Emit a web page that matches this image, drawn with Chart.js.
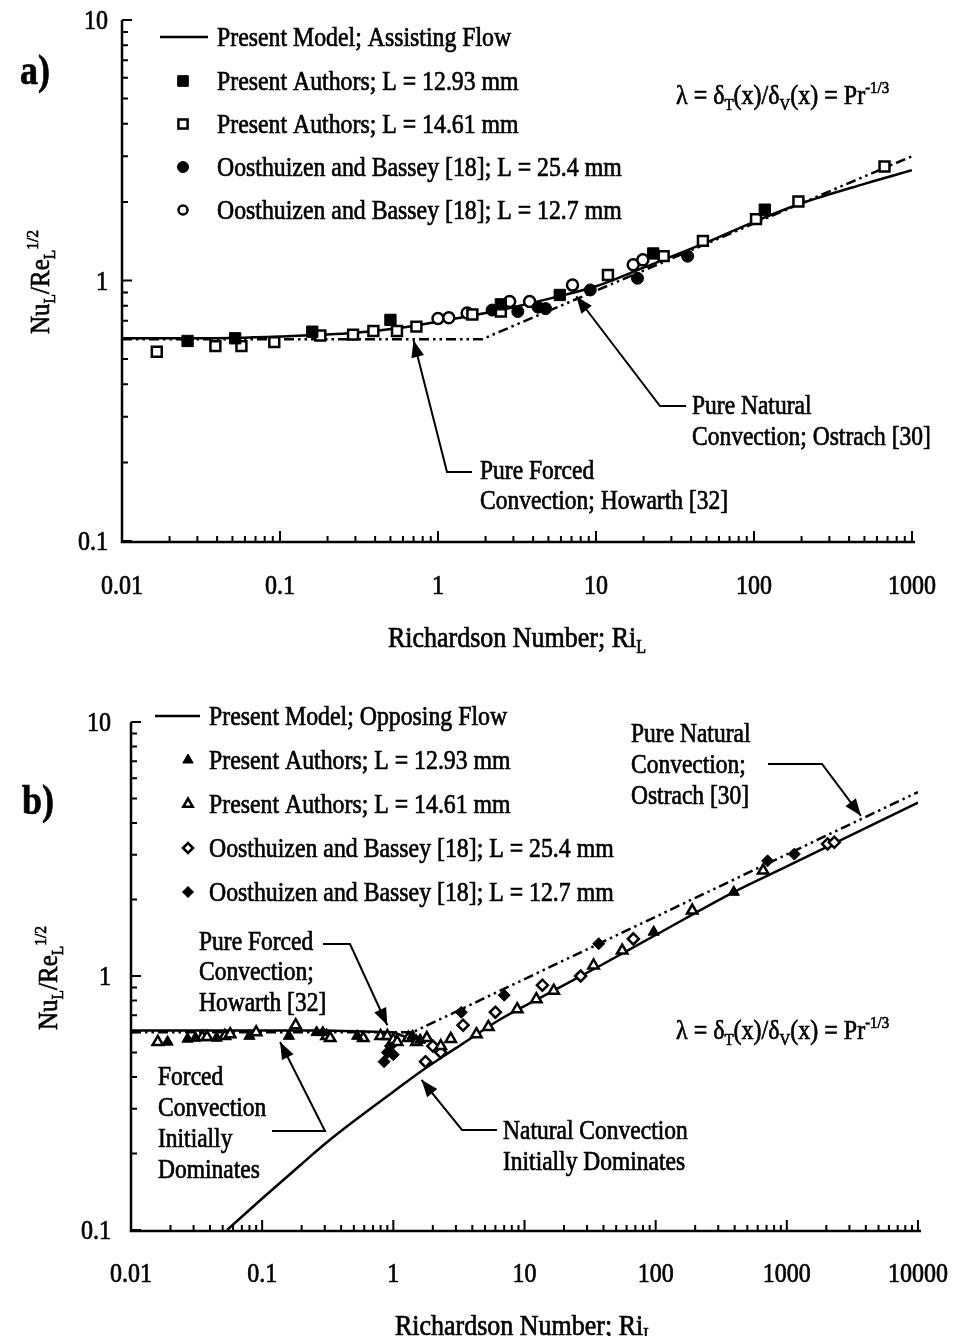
<!DOCTYPE html>
<html>
<head>
<meta charset="utf-8">
<script src="https://cdn.jsdelivr.net/npm/chart.js@4.4.0/dist/chart.umd.min.js"></script>
<style>
  body { margin: 0; background: #fff; }
  canvas { display: block; }
</style>
</head>
<body>
<canvas id="chartA" width="956" height="668"></canvas>
<canvas id="chartB" width="956" height="668"></canvas>
<script>
// ---- panel a) assisting flow ----
const riModelA = [0.01, 0.03, 0.1, 0.3, 0.6, 1, 2, 3, 5, 10, 20, 50, 100, 200, 500, 1000];
const nuModelA = [0.60, 0.60, 0.61, 0.63, 0.66, 0.695, 0.75, 0.79, 0.85, 0.95, 1.12, 1.40, 1.68, 1.98, 2.35, 2.65];
const riLimitA = [0.01, 1.9, 1000];
const nuLimitA = [0.595, 0.595, 3.0];

const riSqFilledA = [0.026, 0.052, 0.16, 0.50, 2.5, 5.9, 23, 117];
const nuSqFilledA = [0.586, 0.60, 0.636, 0.706, 0.81, 0.88, 1.27, 1.87];
const riSqOpenA = [0.0166, 0.039, 0.057, 0.092, 0.18, 0.29, 0.39, 0.55, 0.73, 1.65, 2.5, 11.9, 26.8, 47.5, 103, 191, 670];
const nuSqOpenA = [0.533, 0.56, 0.56, 0.58, 0.615, 0.62, 0.64, 0.64, 0.665, 0.74, 0.76, 1.05, 1.24, 1.42, 1.72, 2.01, 2.74];
const riCirFilledA = [2.2, 3.2, 4.3, 4.8, 9.2, 18.3, 38];
const nuCirFilledA = [0.77, 0.76, 0.79, 0.78, 0.92, 1.02, 1.24];
const riCirOpenA = [1.0, 1.17, 1.53, 2.84, 3.8, 7.1, 17.2, 19.8];
const nuCirOpenA = [0.715, 0.72, 0.75, 0.83, 0.83, 0.96, 1.15, 1.2];

// ---- panel b) opposing flow ----
const riModelB = [0.054, 0.1, 0.2, 0.31, 0.49, 1.0, 1.61, 3, 6.6, 15, 38, 100, 394, 1000, 10000];
const nuModelB = [0.10, 0.133, 0.182, 0.221, 0.266, 0.35, 0.42, 0.52, 0.677, 0.85, 1.10, 1.45, 2.14, 2.70, 4.82];
const riModelB2 = [0.01, 0.3, 1.0, 1.3];
const nuModelB2 = [0.61, 0.61, 0.60, 0.57];
const riLimitB = [0.01, 1.4, 10000];
const nuLimitB = [0.60, 0.60, 5.3];

const riTriFilledB = [0.019, 0.027, 0.031, 0.045, 0.08, 0.16, 0.26, 0.29, 0.53, 1.4, 1.6, 96.6, 394];
const nuTriFilledB = [0.55, 0.565, 0.57, 0.57, 0.58, 0.58, 0.60, 0.60, 0.58, 0.58, 0.56, 1.49, 2.14];
const riTriOpenB = [0.016, 0.035, 0.038, 0.052, 0.057, 0.09, 0.18, 0.31, 0.33, 0.59, 0.8, 0.9, 1.0, 1.07, 1.3, 1.5, 1.8, 2.3, 2.74, 4.3, 5.3, 8.8, 12.3, 16.7, 33.6, 55.6, 190, 660];
const nuTriOpenB = [0.55, 0.575, 0.575, 0.58, 0.59, 0.60, 0.64, 0.58, 0.57, 0.57, 0.58, 0.58, 0.56, 0.55, 0.57, 0.55, 0.57, 0.53, 0.565, 0.59, 0.63, 0.74, 0.81, 0.875, 1.10, 1.26, 1.81, 2.6];
const riDiaOpenB = [1.76, 2.0, 2.3, 3.4, 6.0, 13.7, 26.8, 67.6, 2045, 2300];
const nuDiaOpenB = [0.46, 0.53, 0.50, 0.64, 0.72, 0.92, 1.0, 1.40, 3.31, 3.36];
const riDiaFilledB = [0.85, 0.9, 0.95, 1.0, 3.3, 7.0, 36.8, 713, 1140];
const nuDiaFilledB = [0.46, 0.50, 0.53, 0.49, 0.72, 0.84, 1.34, 2.84, 3.02];

// ---- ticks ----
const xTicksA = [0.01, 0.1, 1, 10, 100, 1000];
const xTickLabelsA = ['0.01', '0.1', '1', '10', '100', '1000'];
const xTicksB = [0.01, 0.1, 1, 10, 100, 1000, 10000];
const xTickLabelsB = ['0.01', '0.1', '1', '10', '100', '1000', '10000'];
const yTicks = [0.1, 1, 10];
const yTickLabels = ['0.1', '1', '10'];

const FONT = '"Liberation Serif", "DejaVu Serif", serif';
const SY = 1.15; // the scan is a bit taller than wide

function pts(xs, ys) { return xs.map((x, i) => ({ x: x, y: ys[i] })); }

// smooth = model curves; straight segments for the limiting laws
function lineSet(xs, ys, dash, smooth) {
    return { data: pts(xs, ys), showLine: true, borderColor: '#000', borderWidth: 2.5, borderDash: dash,
             pointRadius: 0, fill: false, tension: 0,
             cubicInterpolationMode: smooth ? 'monotone' : 'default', order: 2 };
}
function markSet(xs, ys, style, filled, r) {
    return { data: pts(xs, ys), showLine: false, pointStyle: style, pointRadius: r,
             pointBackgroundColor: filled ? '#000' : '#fff', pointBorderColor: '#000',
             pointBorderWidth: filled ? 1 : 2.5, order: 1 };
}

// text with subscripts / superscripts ; parts = [[text, 0 normal | 1 sub | 2 sup], ...]
function drawText(ctx, parts, x, y, size, align, bold, sy) {
    if (typeof parts === 'string') parts = [[parts, 0]];
    ctx.save();
    ctx.translate(x, y);
    ctx.scale(1, sy === undefined ? SY : sy);
    const font = s => (bold ? 'bold ' : '') + s + 'px ' + FONT;
    let w = 0;
    const segs = parts.map(([t, m]) => {
        const s = m ? size * 0.62 : size;
        ctx.font = font(s);
        const sw = ctx.measureText(t).width;
        w += sw;
        return { t, m, s, sw };
    });
    let cx = align === 'center' ? -w / 2 : align === 'right' ? -w : 0;
    ctx.fillStyle = '#000';
    ctx.strokeStyle = '#000';
    ctx.lineWidth = 0.6;
    ctx.textBaseline = 'alphabetic';
    const base = size * 0.33;
    segs.forEach(g => {
        ctx.font = font(g.s);
        const dy = g.m === 1 ? size * 0.22 : g.m === 2 ? -size * 0.42 : 0;
        ctx.fillText(g.t, cx, base + dy);
        ctx.strokeText(g.t, cx, base + dy);
        cx += g.sw;
    });
    ctx.restore();
}

function drawMark(ctx, style, filled, r, x, y) {
    ctx.save();
    ctx.fillStyle = filled ? '#000' : '#fff';
    ctx.strokeStyle = '#000';
    ctx.lineWidth = filled ? 1 : 2.5;
    if (Chart.helpers && Chart.helpers.drawPoint) {
        Chart.helpers.drawPoint(ctx, { pointStyle: style, radius: r, rotation: 0, borderWidth: ctx.lineWidth }, x, y);
    } else {
        ctx.beginPath(); ctx.arc(x, y, r, 0, 2 * Math.PI); ctx.fill(); ctx.stroke();
    }
    ctx.restore();
}

function drawArrow(ctx, path, tip) {
    const all = path.concat([tip]);
    ctx.save();
    ctx.strokeStyle = '#000'; ctx.fillStyle = '#000'; ctx.lineWidth = 2;
    ctx.beginPath();
    all.forEach((p, i) => i ? ctx.lineTo(p[0], p[1]) : ctx.moveTo(p[0], p[1]));
    ctx.stroke();
    const a = all[all.length - 2];
    const ang = Math.atan2(tip[1] - a[1], tip[0] - a[0]);
    const L = 17, H = 6.5;
    ctx.translate(tip[0], tip[1]); ctx.rotate(ang);
    ctx.beginPath(); ctx.moveTo(0, 0); ctx.lineTo(-L, -H); ctx.lineTo(-L, H); ctx.closePath(); ctx.fill();
    ctx.restore();
}

function decadeTicks(min, max) {
    const out = [];
    const e0 = Math.round(Math.log10(min)), e1 = Math.round(Math.log10(max));
    for (let e = e0; e < e1; e++) {
        for (let i = 1; i < 10; i++) out.push({ v: i * Math.pow(10, e), major: i === 1 });
    }
    out.push({ v: max, major: true });
    return out;
}

function decor(spec) {
    return {
        id: 'decor',
        afterDraw(chart) {
            const { ctx, chartArea: a, scales: { x, y } } = chart;
            ctx.save();
            // axes
            ctx.strokeStyle = '#000'; ctx.lineWidth = 2.5;
            ctx.beginPath();
            ctx.moveTo(a.left, a.top); ctx.lineTo(a.left, a.bottom + 1); ctx.lineTo(a.right + 3, a.bottom + 1);
            ctx.stroke();
            // inward ticks
            ctx.lineWidth = 2;
            ctx.beginPath();
            decadeTicks(x.min, x.max).forEach(t => {
                const px = x.getPixelForValue(t.v);
                ctx.moveTo(px, a.bottom); ctx.lineTo(px, a.bottom - (t.major ? 10 : 5));
            });
            decadeTicks(y.min, y.max).forEach(t => {
                const py = y.getPixelForValue(t.v);
                ctx.moveTo(a.left, py); ctx.lineTo(a.left + (t.major ? 10 : 6), py);
            });
            ctx.stroke();
            ctx.restore();

            // tick labels
            spec.xTicks.forEach((v, i) => drawText(ctx, spec.xTickLabels[i], x.getPixelForValue(v), a.bottom + spec.xLabelDy, 24, 'center'));
            yTicks.forEach((v, i) => drawText(ctx, yTickLabels[i], a.left - spec.yLabelGap, y.getPixelForValue(v), 24, 'right'));

            // axis titles
            drawText(ctx, [['Richardson Number; Ri', 0], ['L', 1]], spec.xTitle[0], spec.xTitle[1], 26, 'center');
            ctx.save();
            ctx.translate(spec.yTitle[0], spec.yTitle[1]);
            ctx.rotate(-Math.PI / 2);
            drawText(ctx, [['Nu', 0], ['L', 1], ['/Re', 0], ['L', 1], ['1/2', 2]], 0, 0, 25, 'center', false, 1.1);
            ctx.restore();

            // panel letter
            drawText(ctx, spec.panel.text, spec.panel.x, spec.panel.y, 36, 'left', true);

            // legend
            const lg = spec.legend;
            lg.rows.forEach(r => {
                if (r.kind === 'line') {
                    ctx.save(); ctx.strokeStyle = '#000'; ctx.lineWidth = 2.5;
                    ctx.beginPath(); ctx.moveTo(lg.lineX0, r.y); ctx.lineTo(lg.lineX1, r.y); ctx.stroke();
                    ctx.restore();
                } else {
                    drawMark(ctx, r.style, r.filled, r.r, lg.markX, r.y);
                }
                drawText(ctx, r.text, lg.textX, r.y, 23.8, 'left');
            });

            // notes and arrows
            spec.notes.forEach(n => n.lines.forEach((t, i) => drawText(ctx, t, n.x, n.y + i * n.dy, 23.5, 'left')));
            spec.arrows.forEach(ar => drawArrow(ctx, ar.path, [x.getPixelForValue(ar.tip[0]), y.getPixelForValue(ar.tip[1])]));

            // lambda relation
            drawText(ctx, [['λ = δ', 0], ['T', 1], ['(x)/δ', 0], ['V', 1], ['(x) = Pr', 0], ['-1/3', 2]], spec.formula[0], spec.formula[1], 24, 'left');
        }
    };
}

function makeChart(id, datasets, o) {
    return new Chart(document.getElementById(id), {
        type: 'scatter',
        data: { datasets: datasets },
        options: {
            responsive: false,
            animation: false,
            events: [],
            layout: { padding: o.padding },
            plugins: { legend: { display: false }, tooltip: { enabled: false } },
            scales: {
                x: {
                    type: 'logarithmic', min: o.xMin, max: o.xMax,
                    grid: { display: false, drawTicks: false }, border: { display: false },
                    ticks: { display: false },
                    afterFit: s => { s.height = o.xHeight; }
                },
                y: {
                    type: 'logarithmic', min: 0.1, max: 10,
                    grid: { display: false, drawTicks: false }, border: { display: false },
                    ticks: { display: false },
                    afterFit: s => { s.width = o.yWidth; }
                }
            }
        },
        plugins: [decor(o.spec)]
    });
}

const DASH = [10, 4, 2.5, 4, 2.5, 4];

// a) assisting flow
makeChart('chartA', [
    markSet(riSqFilledA, nuSqFilledA, 'rect', true, 8),
    markSet(riSqOpenA, nuSqOpenA, 'rect', false, 7),
    markSet(riCirFilledA, nuCirFilledA, 'circle', true, 6),
    markSet(riCirOpenA, nuCirOpenA, 'circle', false, 5.5),
    lineSet(riModelA, nuModelA, [], true),
    lineSet(riLimitA, nuLimitA, DASH, false)
], {
    xMin: 0.01, xMax: 1000, xHeight: 127, yWidth: 122,
    padding: { top: 20, right: 44, left: 0, bottom: 0 },
    spec: {
        xTicks: xTicksA, xTickLabels: xTickLabelsA, xLabelDy: 44, yLabelGap: 14,
        xTitle: [517, 637], yTitle: [40, 282],
        panel: { text: 'a)', x: 20, y: 70 },
        legend: {
            lineX0: 160, lineX1: 208, markX: 183, textX: 217,
            rows: [
                { y: 37, kind: 'line', text: 'Present Model; Assisting Flow' },
                { y: 81, style: 'rect', filled: true, r: 7.5, text: 'Present Authors; L = 12.93 mm' },
                { y: 124, style: 'rect', filled: false, r: 6.5, text: 'Present Authors; L = 14.61 mm' },
                { y: 167, style: 'circle', filled: true, r: 5.5, text: 'Oosthuizen and Bassey [18]; L = 25.4 mm' },
                { y: 210, style: 'circle', filled: false, r: 4.5, text: 'Oosthuizen and Bassey [18]; L = 12.7 mm' }
            ]
        },
        notes: [
            { x: 480, y: 470, dy: 30, lines: ['Pure Forced', 'Convection; Howarth [32]'] },
            { x: 692, y: 405, dy: 31, lines: ['Pure Natural', 'Convection; Ostrach [30]'] }
        ],
        arrows: [
            { path: [[472, 472], [447, 472]], tip: [0.70, 0.59] },
            { path: [[686, 406], [660, 406]], tip: [7.5, 0.87] }
        ],
        formula: [676, 95]
    }
});

// b) opposing flow
makeChart('chartB', [
    markSet(riTriFilledB, nuTriFilledB, 'triangle', true, 6.5),
    markSet(riTriOpenB, nuTriOpenB, 'triangle', false, 6),
    markSet(riDiaOpenB, nuDiaOpenB, 'rectRot', false, 5.5),
    markSet(riDiaFilledB, nuDiaFilledB, 'rectRot', true, 6),
    lineSet(riModelB, nuModelB, [], true),
    lineSet(riModelB2, nuModelB2, [], false),
    lineSet(riLimitB, nuLimitB, DASH, false)
], {
    xMin: 0.01, xMax: 10000, xHeight: 106, yWidth: 131,
    padding: { top: 54, right: 38, left: 0, bottom: 0 },
    spec: {
        xTicks: xTicksB, xTickLabels: xTickLabelsB, xLabelDy: 43, yLabelGap: 20,
        xTitle: [524, 657], yTitle: [48, 310],
        panel: { text: 'b)', x: 22, y: 132 },
        legend: {
            lineX0: 155, lineX1: 200, markX: 188, textX: 209,
            rows: [
                { y: 48, kind: 'line', text: 'Present Model; Opposing Flow' },
                { y: 92, style: 'triangle', filled: true, r: 6, text: 'Present Authors; L = 12.93 mm' },
                { y: 136, style: 'triangle', filled: false, r: 5.5, text: 'Present Authors; L = 14.61 mm' },
                { y: 180, style: 'rectRot', filled: false, r: 5, text: 'Oosthuizen and Bassey [18]; L = 25.4 mm' },
                { y: 224, style: 'rectRot', filled: true, r: 5.5, text: 'Oosthuizen and Bassey [18]; L = 12.7 mm' }
            ]
        },
        notes: [
            { x: 631, y: 65, dy: 31, lines: ['Pure Natural', 'Convection;', 'Ostrach [30]'] },
            { x: 199, y: 273, dy: 30.5, lines: ['Pure Forced', 'Convection;', 'Howarth [32]'] },
            { x: 158, y: 408, dy: 31, lines: ['Forced', 'Convection', 'Initially', 'Dominates'] },
            { x: 503, y: 462, dy: 31, lines: ['Natural Convection', 'Initially Dominates'] }
        ],
        arrows: [
            { path: [[768, 96], [822, 96]], tip: [3670, 4.27] },
            { path: [[323, 276], [350, 276]], tip: [0.9, 0.64] },
            { path: [[272, 463], [325, 463]], tip: [0.137, 0.55] },
            { path: [[497, 462], [462, 462]], tip: [1.64, 0.39] }
        ],
        formula: [676, 362]
    }
});
</script>
</body>
</html>
